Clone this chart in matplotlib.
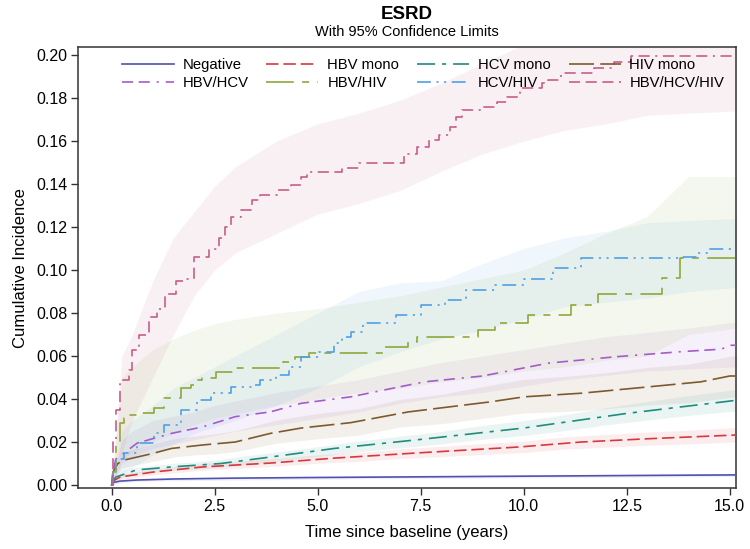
import matplotlib
matplotlib.use("Agg")
import matplotlib.pyplot as plt
import numpy as np

plt.rcParams['font.family'] = ['Liberation Sans', 'DejaVu Sans']
plt.rcParams['lines.scale_dashes'] = False

# ---------------- data ----------------
groups = ["Negative", "HBV mono", "HCV mono", "HIV mono",
          "HBV/HCV", "HBV/HIV", "HCV/HIV", "HBV/HCV/HIV"]

t_neg = [0, 0.05, 0.2, 0.6, 1.5, 3, 5, 7.5, 10, 12.5, 15.2]
v_neg = [0, 0.0012, 0.0018, 0.0023, 0.0028, 0.0032, 0.0035, 0.0038, 0.0041, 0.0044, 0.0047]

t_hbv = [0, 0.05, 0.2, 1, 2.2, 3.85, 5.4, 7.4, 9.9, 11.4, 13, 15.2]
v_hbv = [0, 0.002, 0.0037, 0.006, 0.0084, 0.0102, 0.0125, 0.0149, 0.0177, 0.020, 0.0215, 0.0233]

t_hcv = [0, 0.05, 0.1, 0.6, 1.45, 2.65, 3.85, 5.4, 7.4, 10, 12.5, 15.2]
v_hcv = [0, 0.002, 0.0037, 0.007, 0.0084, 0.010, 0.013, 0.017, 0.021, 0.0265, 0.0333, 0.0395]

t_hiv = [0, 0.03, 0.15, 0.3, 0.62, 1.0, 1.45, 2.2, 3.0, 3.85, 4.6, 5.8, 7.2, 9.2, 10, 11.4, 13, 14.3, 15.0, 15.2]
v_hiv = [0, 0.006, 0.010, 0.0116, 0.013, 0.0147, 0.017, 0.0186, 0.020, 0.024, 0.0265, 0.029, 0.034, 0.0387, 0.041, 0.0427, 0.0456, 0.048, 0.0507, 0.0507]

t_hbvhcv = [0, 0.03, 0.1, 0.62, 1.45, 2.2, 3.0, 3.85, 4.6, 5.8, 7.2, 7.6, 9.0, 10.6, 12.2, 13.8, 14.8, 15.0, 15.2]
v_hbvhcv = [0, 0.006, 0.012, 0.0195, 0.024, 0.027, 0.0318, 0.034, 0.038, 0.041, 0.0465, 0.048, 0.0507, 0.0567, 0.0596, 0.062, 0.0632, 0.065, 0.065]

t_hbvhiv = [0, 0.03, 0.1, 0.2, 0.3, 0.43, 0.62, 1.03, 1.27, 1.68, 1.92, 2.06, 2.2, 2.54, 3.0,
            4.15, 4.45, 4.8, 6.6, 7.2, 7.4, 8.9, 9.3, 10.1, 11.15, 11.8, 13.35, 13.8, 15.2]
v_hbvhiv = [0, 0.006, 0.02, 0.029, 0.031, 0.0325, 0.0335, 0.0358, 0.0405, 0.045, 0.0465, 0.049, 0.050, 0.0526, 0.0544,
            0.0572, 0.0596, 0.0614, 0.064, 0.0665, 0.069, 0.072, 0.0753, 0.079, 0.0837, 0.0888, 0.0963, 0.1055, 0.1055]

t_hcvhiv = [0, 0.03, 0.1, 0.3, 0.62, 1.03, 1.27, 1.68, 2.06, 2.4, 2.9, 3.43, 3.6, 3.98, 4.3, 4.6, 5.03,
            5.4, 5.6, 5.8, 6.1, 6.9, 7.5, 8.1, 8.6, 9.3, 10.0, 10.7, 11.4, 13.8, 14.2, 14.5, 15.2]
v_hcvhiv = [0, 0.006, 0.012, 0.0147, 0.0195, 0.024, 0.028, 0.035, 0.0395, 0.0427, 0.0457, 0.0465, 0.049, 0.0512, 0.055, 0.0596, 0.062,
            0.066, 0.069, 0.071, 0.0753, 0.079, 0.0837, 0.086, 0.0907, 0.093, 0.096, 0.101, 0.1055, 0.106, 0.108, 0.1098, 0.1098]

t_all3 = [0, 0.03, 0.1, 0.2, 0.43, 0.5, 0.67, 0.9, 1.1, 1.3, 1.55, 1.8, 2.0, 2.35, 2.6, 2.75, 2.9, 3.15, 3.4,
          3.6, 4.0, 4.35, 4.6, 4.75, 5.6, 6.0, 6.75, 7.1, 7.4, 7.7, 7.95, 8.2, 8.35, 8.5, 9.0, 9.35, 9.6, 9.9,
          10.45, 10.6, 10.9, 11.7, 12.2, 12.6, 15.2]
v_all3 = [0, 0.02, 0.035, 0.049, 0.0535, 0.063, 0.07, 0.078, 0.082, 0.089, 0.095, 0.096, 0.106, 0.110, 0.115, 0.120, 0.1247, 0.128, 0.1326,
          0.135, 0.137, 0.1395, 0.1433, 0.1456, 0.1474, 0.150, 0.150, 0.154, 0.157, 0.1605, 0.163, 0.1665, 0.171, 0.1744, 0.176, 0.178, 0.1805, 0.1846,
          0.187, 0.1884, 0.1916, 0.194, 0.197, 0.1995, 0.1995]

# 95% confidence limits on a common time grid
t_band = [0, 0.25, 0.5, 1, 1.5, 2, 2.5, 3, 4, 5, 6, 7, 8, 9, 10, 11, 12, 13, 14, 15.2]
lo_neg = [0, 0.0012, 0.0015, 0.0019, 0.002, 0.0021, 0.0022, 0.0023, 0.0025, 0.0027, 0.0029, 0.003, 0.0031, 0.0032, 0.0033, 0.0034, 0.0035, 0.0037, 0.0038, 0.004]
hi_neg = [0, 0.0022, 0.0026, 0.003, 0.0031, 0.0032, 0.0033, 0.0034, 0.0036, 0.0038, 0.004, 0.0042, 0.0043, 0.0045, 0.0046, 0.0048, 0.0049, 0.005, 0.0052, 0.0054]
lo_hbv = [0, 0.0025, 0.0033, 0.0047, 0.0056, 0.0065, 0.0072, 0.0077, 0.0087, 0.0101, 0.011, 0.0123, 0.0132, 0.0142, 0.0151, 0.0167, 0.0176, 0.0185, 0.0191, 0.02]
hi_hbv = [0, 0.005, 0.0058, 0.0074, 0.0085, 0.0096, 0.0105, 0.011, 0.0124, 0.014, 0.0151, 0.0168, 0.018, 0.0193, 0.0204, 0.0224, 0.0235, 0.0246, 0.0255, 0.0268]
lo_hcv = [0, 0.0035, 0.005, 0.006, 0.0069, 0.0073, 0.008, 0.009, 0.0111, 0.0132, 0.0155, 0.0173, 0.0191, 0.0213, 0.023, 0.0253, 0.028, 0.0302, 0.0324, 0.0345]
hi_hcv = [0, 0.0065, 0.008, 0.009, 0.0101, 0.0107, 0.0116, 0.013, 0.0153, 0.0178, 0.0205, 0.0227, 0.0249, 0.0277, 0.03, 0.0327, 0.036, 0.0388, 0.0416, 0.0445]
lo_hiv = [0, 0.008, 0.009, 0.011, 0.013, 0.014, 0.0145, 0.0155, 0.0195, 0.0215, 0.0232, 0.027, 0.0285, 0.031, 0.0335, 0.0342, 0.0355, 0.0372, 0.0383, 0.0412]
hi_hiv = [0, 0.015, 0.0163, 0.019, 0.0215, 0.0228, 0.0238, 0.0253, 0.0302, 0.0333, 0.0355, 0.0398, 0.0422, 0.0458, 0.0492, 0.0505, 0.0523, 0.0547, 0.0562, 0.0605]
lo_hbvhcv = [0, 0.01, 0.013, 0.017, 0.019, 0.021, 0.023, 0.025, 0.028, 0.031, 0.034, 0.038, 0.041, 0.043, 0.046, 0.049, 0.051, 0.053, 0.054, 0.055]
hi_hbvhcv = [0, 0.021, 0.025, 0.03, 0.032, 0.034, 0.037, 0.039, 0.043, 0.046, 0.049, 0.053, 0.057, 0.06, 0.063, 0.066, 0.069, 0.071, 0.073, 0.076]
lo_hbvhiv = [0, 0.012, 0.015, 0.02, 0.024, 0.028, 0.031, 0.033, 0.037, 0.04, 0.043, 0.045, 0.048, 0.05, 0.053, 0.055, 0.058, 0.06, 0.07, 0.073]
hi_hbvhiv = [0, 0.05, 0.055, 0.063, 0.068, 0.072, 0.075, 0.077, 0.08, 0.082, 0.085, 0.088, 0.092, 0.096, 0.1, 0.108, 0.117, 0.125, 0.1435, 0.1435]
lo_hcvhiv = [0, 0.006, 0.008, 0.014, 0.019, 0.024, 0.027, 0.03, 0.037, 0.045, 0.055, 0.062, 0.068, 0.072, 0.077, 0.083, 0.085, 0.087, 0.09, 0.092]
hi_hcvhiv = [0, 0.025, 0.03, 0.037, 0.045, 0.05, 0.055, 0.06, 0.07, 0.08, 0.09, 0.094, 0.095, 0.103, 0.11, 0.115, 0.118, 0.122, 0.123, 0.124]
lo_all3 = [0, 0.015, 0.03, 0.05, 0.07, 0.088, 0.1, 0.108, 0.117, 0.126, 0.131, 0.137, 0.146, 0.154, 0.16, 0.165, 0.168, 0.172, 0.173, 0.174]
hi_all3 = [0, 0.06, 0.07, 0.095, 0.115, 0.127, 0.139, 0.148, 0.16, 0.168, 0.173, 0.179, 0.187, 0.196, 0.205, 0.21, 0.21, 0.21, 0.21, 0.21]

x_ticks = [0.0, 2.5, 5.0, 7.5, 10.0, 12.5, 15.0]
y_ticks = [0.00, 0.02, 0.04, 0.06, 0.08, 0.10, 0.12, 0.14, 0.16, 0.18, 0.20]

# ---------------- styles ----------------
colors = ['#4F52B0', '#D7383F', '#1E8C7E', '#7D5A2E',
          '#A35DC8', '#8FA83A', '#4FA0E6', '#C65E8A']
dashes = [None,
          (0, (9, 3.5)),
          (0, (13, 5, 3, 5)),
          (0, (18, 4.5)),
          (0, (8, 4, 8, 5, 1.5, 5)),
          (0, (20, 6, 5, 6)),
          (0, (10, 4, 1.5, 4, 1.5, 4)),
          (0, (8, 4, 8, 4, 8, 4, 1.5, 4))]
use_steps = [False, False, False, False, False, True, True, True]

series = [(t_neg, v_neg, lo_neg, hi_neg), (t_hbv, v_hbv, lo_hbv, hi_hbv),
          (t_hcv, v_hcv, lo_hcv, hi_hcv), (t_hiv, v_hiv, lo_hiv, hi_hiv),
          (t_hbvhcv, v_hbvhcv, lo_hbvhcv, hi_hbvhcv), (t_hbvhiv, v_hbvhiv, lo_hbvhiv, hi_hbvhiv),
          (t_hcvhiv, v_hcvhiv, lo_hcvhiv, hi_hcvhiv), (t_all3, v_all3, lo_all3, hi_all3)]

fig = plt.figure(figsize=(7.5, 5.49), dpi=100)
ax = fig.add_axes([0.1044, 0.1111, 0.8769, 0.8027])

for (t, v, lo, hi), c in zip(series, colors):
    ax.fill_between(t_band, lo, hi, color=c, alpha=0.09, lw=0, zorder=1)

handles = []
for (t, v, lo, hi), c, d, name, st in zip(series, colors, dashes, groups, use_steps):
    ls = '-' if d is None else d
    if st:
        h, = ax.step(t, v, where='post', color=c, lw=1.2, linestyle=ls, label=name, zorder=3)
    else:
        h, = ax.plot(t, v, color=c, lw=1.2, linestyle=ls, label=name, zorder=3)
    handles.append(h)

ax.set_xlim(-0.81, 15.15)
ax.set_ylim(-0.0014, 0.2036)
ax.set_xticks(x_ticks)
ax.set_xticklabels([f"{x:.1f}" for x in x_ticks])
ax.set_yticks(y_ticks)
ax.set_yticklabels([f"{y:.2f}" for y in y_ticks])
ax.tick_params(axis='both', labelsize=11.5, length=5, width=1.0, color='#333333', pad=3)
for s in ax.spines.values():
    s.set_color('#333333')
    s.set_linewidth(1.1)

ax.set_xlabel("Time since baseline (years)", fontsize=12, labelpad=8)
ax.set_ylabel("Cumulative Incidence", fontsize=12, labelpad=6)

fig.text(0.5427, 0.973, "ESRD", ha='center', va='center', fontsize=13.5, fontweight='bold')
fig.text(0.5427, 0.942, "With 95% Confidence Limits", ha='center', va='center', fontsize=10.5)

# legend filled row by row (4 columns x 2 rows)
order = [0, 4, 1, 5, 2, 6, 3, 7]
leg = ax.legend([handles[i] for i in order], [groups[i] for i in order],
                ncol=4, loc='upper left', bbox_to_anchor=(0.05, 1.0), frameon=False,
                fontsize=10.7, handlelength=3.5, handletextpad=0.6, columnspacing=1.2,
                labelspacing=0.3, borderaxespad=0.3)

fig.savefig("out.png", dpi=100)
